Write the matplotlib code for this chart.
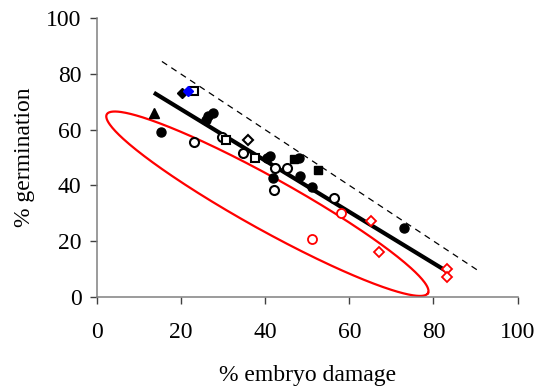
import numpy as np
import matplotlib
matplotlib.use("Agg")
import matplotlib.pyplot as plt

plt.rcParams['font.family'] = ['Liberation Serif', 'DejaVu Serif']

# --- data (x = % embryo damage, y = % germination) ---
filled_circle_x = [15.2, 26.0, 26.5, 27.6, 40.4, 41.2, 41.9, 48.0, 48.3, 51.1, 73.0]
filled_circle_y = [59.3, 63.5, 65.0, 66.1, 49.7, 50.6, 42.5, 49.7, 43.5, 39.5, 24.8]
filled_square_x = [46.8, 52.6]
filled_square_y = [49.5, 45.5]
filled_triangle_x = [13.6]
filled_triangle_y = [66.1]
filled_diamond_x = [20.2]
filled_diamond_y = [73.3]
blue_diamond_x = [21.6]
blue_diamond_y = [73.9]
open_circle_x = [23.2, 29.8, 34.8, 42.4, 45.1, 42.2, 56.4]
open_circle_y = [55.5, 57.3, 51.5, 46.3, 46.3, 38.3, 35.3]
open_square_x = [23.2, 30.7, 37.6]
open_square_y = [73.9, 56.3, 49.7]
open_diamond_x = [36.0]
open_diamond_y = [56.2]
red_circle_x = [58.1, 51.1]
red_circle_y = [30.2, 20.6]
red_diamond_x = [65.2, 67.1, 83.1, 83.1]
red_diamond_y = [27.2, 16.2, 10.1, 7.0]

# regression line coefficients and 1:1 reference line (y = 100 - x)
fit_intercept = 85.8
fit_slope = -0.922
ref_x_range = [15.5, 91.0]

# red ellipse (centre, conjugate semi-axes in data units)
ell_center = (40.55, 33.4)
ell_u = (38.15, -32.1)
ell_v = (-3.0, -8.16)

fig = plt.figure(figsize=(5.37, 3.87), dpi=100)
ax = fig.add_axes([0.180, 0.2333, 0.784, 0.7194])

ms = 6.5
ax.plot(filled_circle_x, filled_circle_y, 'o', color='black', ms=ms, zorder=4)
ax.plot(filled_square_x, filled_square_y, 's', color='black', ms=ms * 0.95, zorder=4)
ax.plot(filled_triangle_x, filled_triangle_y, '^', color='black', ms=ms, zorder=4)
ax.plot(filled_diamond_x, filled_diamond_y, 'D', color='black', ms=ms * 0.8, zorder=4)
ax.plot(blue_diamond_x, blue_diamond_y, 'D', color='#0000ff', ms=ms * 0.8, zorder=5)
ax.plot(open_circle_x, open_circle_y, 'o', mfc='white', mec='black', mew=1.5, ms=ms, zorder=4)
ax.plot(open_square_x, open_square_y, 's', mfc='white', mec='black', mew=1.5, ms=ms * 0.95, zorder=4)
ax.plot(open_diamond_x, open_diamond_y, 'D', mfc='white', mec='black', mew=1.5, ms=ms * 0.75, zorder=4)
ax.plot(red_circle_x, red_circle_y, 'o', mfc='white', mec='#ff0000', mew=1.3, ms=ms, zorder=4)
ax.plot(red_diamond_x, red_diamond_y, 'D', mfc='white', mec='#ff0000', mew=1.3, ms=ms * 0.75, zorder=4)

# regression line over the data range
all_x = (filled_circle_x + filled_square_x + filled_triangle_x + filled_diamond_x +
         blue_diamond_x + open_circle_x + open_square_x + open_diamond_x +
         red_circle_x + red_diamond_x)
fx = np.array([min(all_x), max(all_x)])
ax.plot(fx, fit_intercept + fit_slope * fx, color='black', lw=3.0, zorder=3,
        solid_capstyle='butt')

# dashed 1:1 line
rx = np.array(ref_x_range)
ax.plot(rx, 100 - rx, color='black', lw=0.9, ls=(0, (5, 4)), zorder=2)

# red ellipse
t = np.linspace(0, 2 * np.pi, 400)
ex = ell_center[0] + ell_u[0] * np.cos(t) + ell_v[0] * np.sin(t)
ey = ell_center[1] + ell_u[1] * np.cos(t) + ell_v[1] * np.sin(t)
ax.plot(ex, ey, color='#ff0000', lw=1.6, zorder=2, clip_on=False)

ax.set_xlim(0, 100)
ax.set_ylim(0, 100)
ax.set_xticks(range(0, 101, 20))
ax.set_yticks(range(0, 101, 20))
for s in ['top', 'right']:
    ax.spines[s].set_visible(False)
for s in ['left', 'bottom']:
    ax.spines[s].set_color('#808080')
    ax.spines[s].set_linewidth(1.1)
ax.tick_params(direction='out', length=5, width=1.0, color='#404040', labelsize=17)
ax.tick_params(axis='x', pad=13)
ax.tick_params(axis='y', pad=6)
ax.set_xlabel('% embryo damage', fontsize=17, labelpad=16)
ax.set_ylabel('% germination', fontsize=17, labelpad=8)

fig.savefig('out.png', dpi=100)
